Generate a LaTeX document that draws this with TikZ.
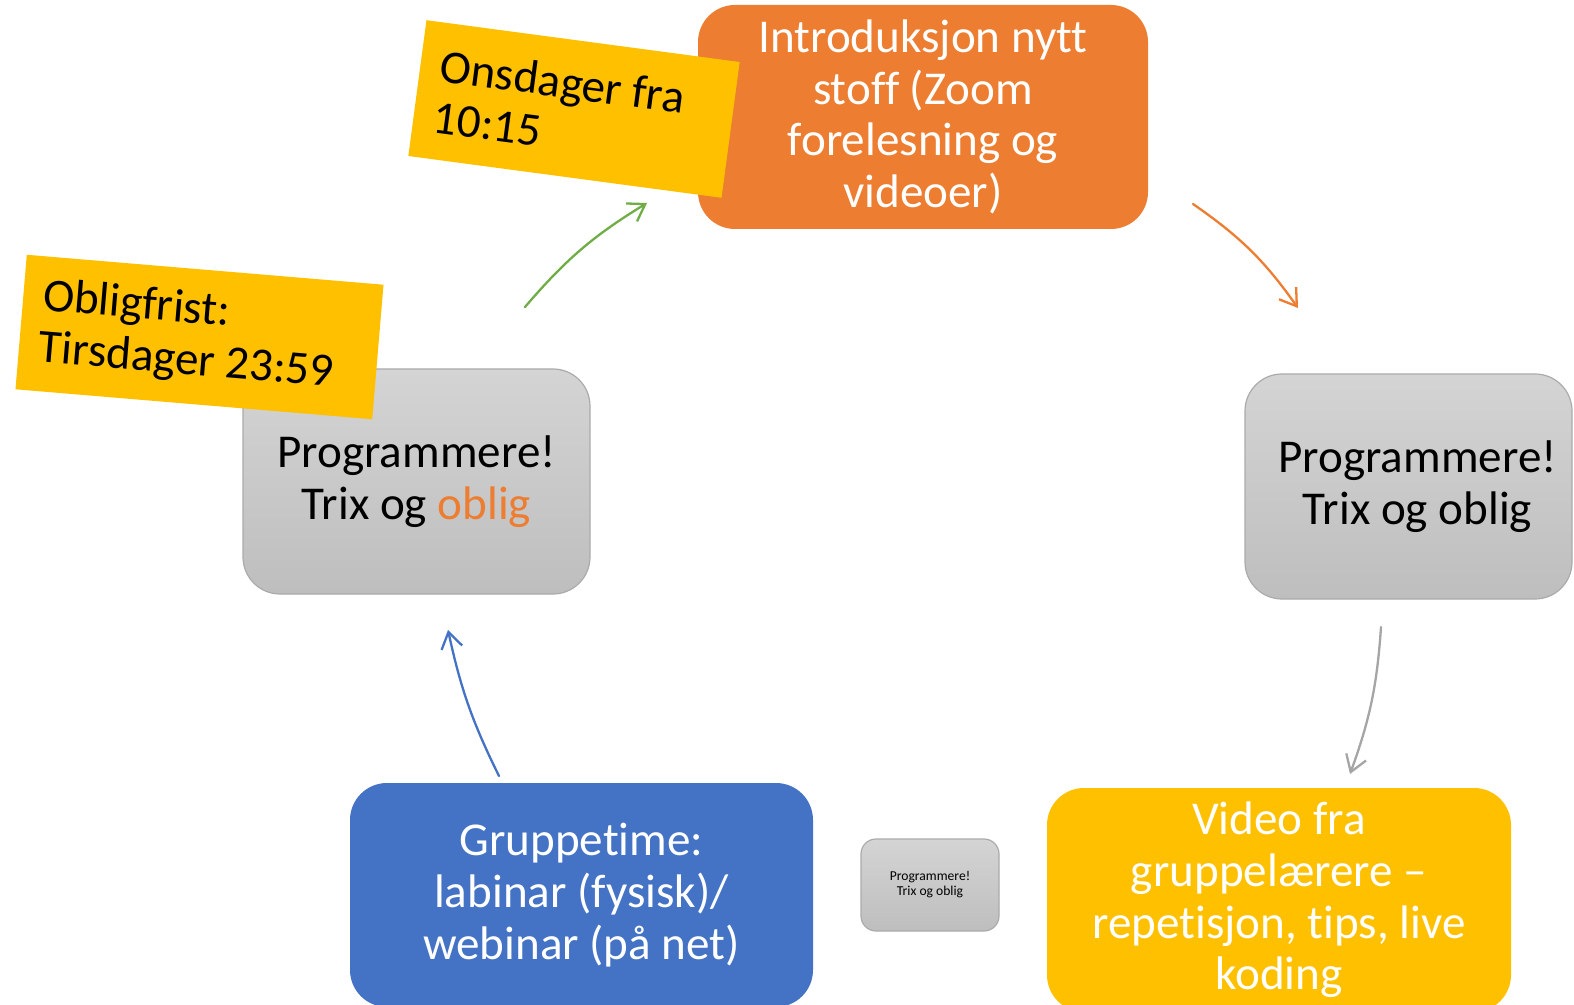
\documentclass[tikz,border=0pt]{standalone}
\usepackage{fontspec}
\setmainfont{Carlito}[Ligatures={NoCommon,NoContextual}]
\usetikzlibrary{arrows.meta,positioning}

\definecolor{ppOrange}{HTML}{ED7D31}
\definecolor{ppBlue}{HTML}{4472C4}
\definecolor{ppGreen}{HTML}{70AD47}
\definecolor{ppGray}{HTML}{A5A5A5}
\definecolor{tagyellow}{HTML}{FFC000}
\definecolor{boxtop}{HTML}{D4D4D4}
\definecolor{boxbottom}{HTML}{BEBEBE}
\definecolor{boxline}{HTML}{ABABAB}

\newcommand{\slidefont}{\fontsize{23.55}{25.85}\selectfont}

\begin{document}
\begin{tikzpicture}[x=0.5pt,y=-0.5pt,
                    every node/.style={align=center,inner sep=0pt,font=\slidefont},
                    box/.style={rounded corners=18.5pt,minimum height=112pt,text=white},
                    progbox/.style={rounded corners=18.5pt,draw=boxline,line width=0.6pt,
                                    top color=boxtop,bottom color=boxbottom},
                    tag/.style={fill=tagyellow,align=flush left,inner xsep=10pt},
                    flow/.style={-{Straight Barb[length=8pt,width=10.5pt]},line width=1.15pt,line cap=round}]

\useasboundingbox (0,0) rectangle (1574,1005);
\clip (0,0) rectangle (1574,1005);

\node[box,fill=ppOrange,minimum width=225pt] (intro) at (923,117) {Introduksjon nytt\\stoff (Zoom\\forelesning og\\videoer)};
\node[tag,rotate=-7.6,text width=138pt,minimum height=68.5pt] (onsdag) at (574,109) {Onsdager fra\\10:15};

\node[progbox,minimum width=173.5pt,minimum height=112.5pt] (prog) at (416.5,481.5) {Programmere!\\Trix og \textcolor{ppOrange}{oblig}};
\node[tag,rotate=-4.8,text width=159pt,minimum height=67.5pt] (frist) at (199.5,337) {Obligfrist:\\Tirsdager 23:59};

\node[progbox,minimum width=163.5pt,minimum height=112.5pt] (progright) at (1408.5,486.5) {\hspace*{9pt}Programmere!\\\hspace*{9pt}Trix og oblig};
\node[progbox,rounded corners=7.5pt,minimum width=69pt,minimum height=46pt,
      font=\fontsize{6.8}{7.5}\selectfont] (mini) at (930,885) {Programmere!\\Trix og oblig};

\node[box,fill=ppBlue,minimum width=231.5pt] (gruppe) at (581.5,895) {Gruppetime:\\labinar (fysisk)/\\webinar (på net)};
\node[box,fill=tagyellow,minimum width=232pt] (video) at (1279,900) {Video fra\\gruppelærere –\\repetisjon, tips, live\\koding};

\coordinate (g0) at (525,307);
\coordinate (g1) at (647,203);
\coordinate (o0) at (1193,204);
\coordinate (o1) at (1298,308);
\coordinate (s0) at (1381,627);
\coordinate (s1) at (1350,774);
\coordinate (b0) at (499,776);
\coordinate (b1) at (448,630);

\draw[flow,ppGreen] (g0) to[bend left=9] (g1);
\draw[flow,ppOrange] (o0) to[bend left=10] (o1);
\draw[flow,ppGray] (s0) to[bend left=8] (s1);
\draw[flow,ppBlue] (b0) to[bend left=7] (b1);

\end{tikzpicture}
\end{document}
